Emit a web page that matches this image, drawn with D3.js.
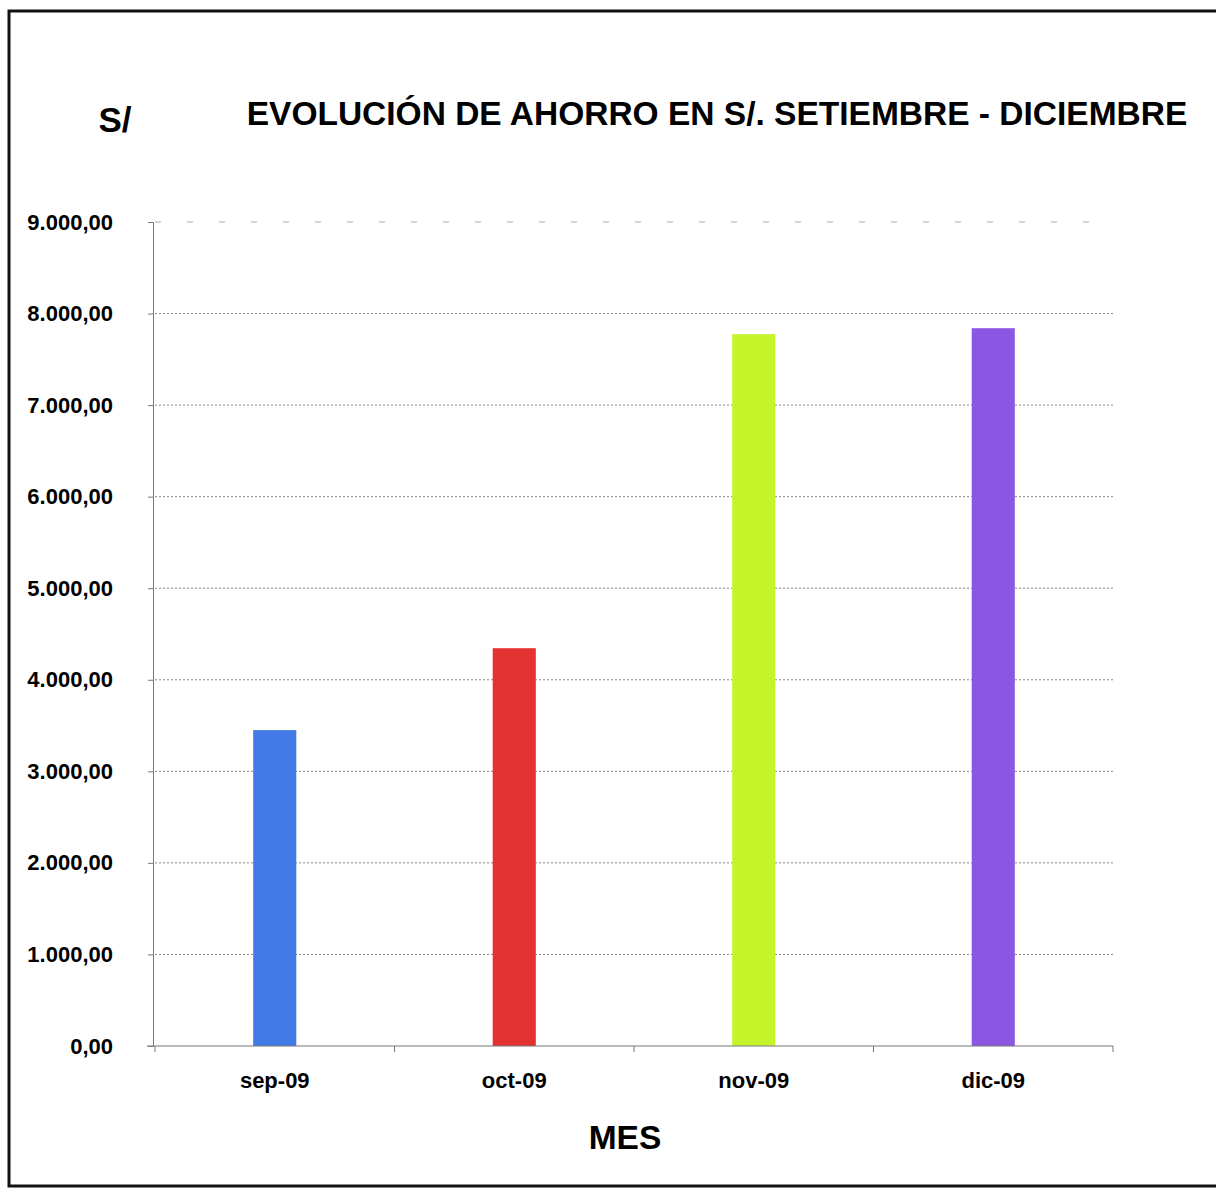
<!DOCTYPE html>
<meta charset="utf-8">
<style>
body { margin: 0; background: #fff; }
text { font-family: "Liberation Sans", Arial, sans-serif; font-weight: bold; fill: #000; }
.grid line { stroke: #888; stroke-width: 1px; stroke-dasharray: 2,2; }
.axis path, .axis line { stroke: #777; }
</style>
<svg width="1216" height="1189"></svg>
<script src="https://d3js.org/d3.v7.min.js"></script>
<script>

var months = ["sep-09", "oct-09", "nov-09", "dic-09"];
var ahorro = [3450, 4345, 7775, 7840];
var barColors = ["#4179e6", "#e43232", "#c6f42a", "#8b57e2"];
var yTicks = [0, 1000, 2000, 3000, 4000, 5000, 6000, 7000, 8000, 9000];

var svg = d3.select("svg"),
    margin = {left: 155, right: 103, top: 222, bottom: 143},
    width = +svg.attr("width"),
    height = +svg.attr("height");

// page frame
svg.append("rect")
    .attr("x", 9).attr("y", 11)
    .attr("width", 1215).attr("height", 1175)
    .attr("fill", "none").attr("stroke", "#111").attr("stroke-width", 3);

var x = d3.scaleBand()
    .domain(months)
    .range([margin.left, width - margin.right])
    .paddingInner(0.82)
    .paddingOuter(0.41);

var y = d3.scaleLinear()
    .domain([0, 9000])
    .range([height - margin.bottom, margin.top]);

var fmt = function(d) {
  return d3.format(",.2f")(d).replace(/,/g, "#").replace(".", ",").replace(/#/g, ".");
};

// gridlines
svg.append("g").attr("class", "grid")
  .selectAll("line")
  .data(yTicks.filter(function(d) { return d > 0; }))
  .enter().append("line")
    .attr("x1", margin.left)
    .attr("x2", width - margin.right)
    .attr("y1", function(d) { return y(d); })
    .attr("y2", function(d) { return y(d); })
    .style("stroke-dasharray", function(d) { return d === 9000 ? "6,26" : null; })
    .style("stroke", function(d) { return d === 9000 ? "#aaa" : null; });

svg.append("g").selectAll("rect")
    .data(ahorro)
    .enter().append("rect")
    .attr("x", function(d, i) { return x(months[i]); })
    .attr("y", function(d) { return y(d); })
    .attr("width", x.bandwidth())
    .attr("height", function(d) { return y(0) - y(d); })
    .attr("fill", function(d, i) { return barColors[i]; });

// y axis
var yAxis = svg.append("g").attr("class", "axis")
    .attr("transform", "translate(" + (margin.left - 2) + ",0)")
    .call(d3.axisLeft(y).tickValues(yTicks).tickFormat(fmt).tickSize(5).tickPadding(35));
yAxis.selectAll("text").style("font-size", "22px");

// x axis
var xAxis = svg.append("g").attr("class", "axis")
    .attr("transform", "translate(0," + y(0) + ")")
    .call(d3.axisBottom(x).tickSize(0).tickPadding(26));
xAxis.selectAll("text").style("font-size", "22px");
xAxis.select(".domain").remove();
xAxis.append("line")
    .attr("x1", margin.left - 8).attr("x2", width - margin.right)
    .attr("y1", 0).attr("y2", 0);

var bounds = d3.range(months.length + 1).map(function(i) {
  return margin.left + i * (width - margin.left - margin.right) / months.length;
});
xAxis.selectAll(".sep").data(bounds).enter().append("line")
    .attr("x1", function(d) { return d; }).attr("x2", function(d) { return d; })
    .attr("y1", 0).attr("y2", 6);

// titles
svg.append("text")
    .attr("x", 717).attr("y", 125)
    .attr("text-anchor", "middle")
    .style("font-size", "33.5px")
    .text("EVOLUCIÓN DE AHORRO EN S/. SETIEMBRE - DICIEMBRE");

svg.append("text")
    .attr("x", 115).attr("y", 132)
    .attr("text-anchor", "middle")
    .style("font-size", "35px")
    .text("S/");

svg.append("text")
    .attr("x", 625).attr("y", 1149)
    .attr("text-anchor", "middle")
    .style("font-size", "33.5px")
    .text("MES");

</script>
